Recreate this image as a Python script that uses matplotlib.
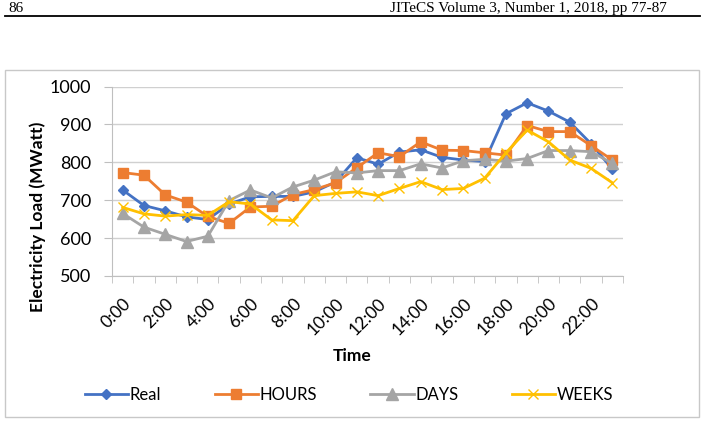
import matplotlib
matplotlib.use("Agg")
import matplotlib.pyplot as plt
from matplotlib.patches import Rectangle
from matplotlib.lines import Line2D
import numpy as np

plt.rcParams['font.family'] = ['Lato', 'DejaVu Sans']

# hourly electricity load (MWatt)
times = ['0:00', '1:00', '2:00', '3:00', '4:00', '5:00', '6:00', '7:00',
         '8:00', '9:00', '10:00', '11:00', '12:00', '13:00', '14:00', '15:00',
         '16:00', '17:00', '18:00', '19:00', '20:00', '21:00', '22:00', '23:00']
real = [727, 686, 672, 656, 649, 690, 709, 710, 710, 722, 748, 812,
        795, 827, 833, 813, 806, 802, 928, 957, 935, 906, 849, 782]
hours_fc = [773, 766, 714, 695, 657, 639, 682, 684, 715, 728, 746, 786,
            825, 815, 854, 832, 831, 825, 819, 897, 881, 881, 844, 806]
days_fc = [665, 629, 610, 591, 605, 699, 727, 706, 735, 753, 775, 772,
           778, 778, 796, 785, 804, 808, 803, 810, 831, 831, 828, 797]
weeks_fc = [681, 664, 658, 662, 660, 696, 690, 648, 646, 712, 718, 722,
            712, 731, 749, 728, 731, 758, 825, 885, 854, 806, 784, 746]

W, H = 706, 430
fig = plt.figure(figsize=(W / 100, H / 100), dpi=100)

# page header
fig.text(8 / W, 1 - 12 / H, '86', family='Liberation Serif', fontsize=11, va='baseline', ha='left')
fig.text(667 / W, 1 - 12 / H, 'JITeCS Volume 3, Number 1, 2018, pp 77-87', family='Liberation Serif',
         fontsize=11, va='baseline', ha='right')
fig.add_artist(Line2D([5 / W, 700 / W], [1 - 16 / H, 1 - 16 / H], color='black', lw=1.3,
                      transform=fig.transFigure))
# chart frame
fig.add_artist(Rectangle((5 / W, 1 - 417 / H), 694 / W, 347 / H, transform=fig.transFigure,
                         fill=False, edgecolor='#C8C8C8', lw=1))

ax = fig.add_axes([112 / W, 1 - 276 / H, 511 / W, 189.5 / H])
x = np.arange(len(times))

ax.plot(x, real, color='#4472C4', lw=2, marker='D', ms=5.5, label='Real')
ax.plot(x, hours_fc, color='#ED7D31', lw=2, marker='s', ms=7, label='HOURS')
ax.plot(x, days_fc, color='#A5A5A5', lw=2, marker='^', ms=8, label='DAYS')
ax.plot(x, weeks_fc, color='#FFC000', lw=2, marker='x', ms=7, mew=1, label='WEEKS')

ax.set_xlim(-0.5, len(times) - 0.5)
ax.set_ylim(500, 1000)
ax.set_yticks(range(500, 1001, 100))
ax.set_xticks(x[::2])
ax.set_xticklabels(times[::2], rotation=45, ha='right', rotation_mode='anchor')
ax.set_xticks(np.arange(-0.5, len(times)), minor=True)
ax.tick_params(axis='x', which='major', length=0, pad=14, labelsize=12.5)
ax.tick_params(axis='x', which='minor', length=5, color='#BFBFBF')
ax.tick_params(axis='y', length=6, pad=9, labelsize=13, color='#BFBFBF')

ax.grid(axis='y', color='#D0D0D0', lw=1)
ax.set_axisbelow(True)
for s in ['top', 'right']:
    ax.spines[s].set_visible(False)
for s in ['left', 'bottom']:
    ax.spines[s].set_color('#BFBFBF')

ax.set_xlabel('Time', fontsize=12.5, fontweight='bold')
ax.xaxis.set_label_coords(240 / 511, -72 / 189.5)
ax.set_ylabel('Electricity Load (MWatt)', fontsize=12.5, fontweight='bold', va='center')
ax.yaxis.set_label_coords(-74 / 511, (276 - 217) / 189.5)

fig.legend(loc='center', bbox_to_anchor=(349 / W, 1 - 395 / H), ncol=4, frameon=False,
           fontsize=12, handlelength=2.6, columnspacing=3.2, handletextpad=0.1)

fig.savefig('out.png', dpi=100)
